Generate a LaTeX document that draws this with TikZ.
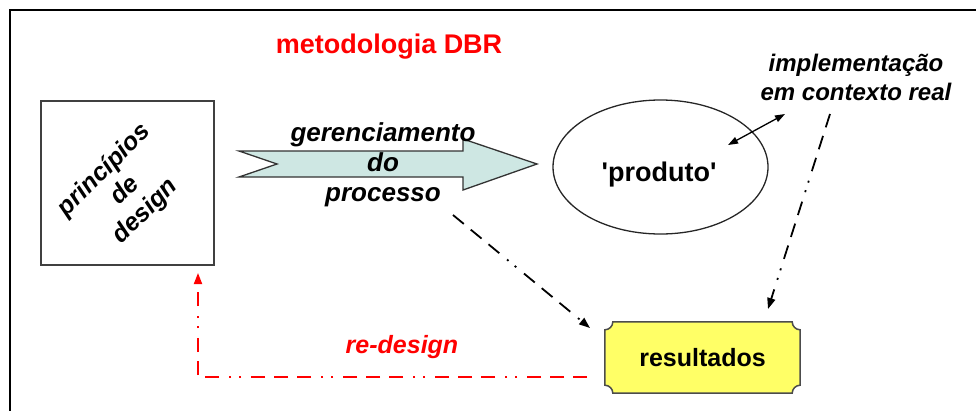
\documentclass[tikz,border=0pt]{standalone}
\usepackage{fontspec}
\setmainfont{Liberation Sans}
\usetikzlibrary{arrows.meta,shapes.geometric,backgrounds}
\definecolor{arrowfill}{RGB}{206,231,227}
\definecolor{resfill}{RGB}{255,255,102}
\begin{document}
\begin{tikzpicture}[x=1pt,y=-1pt,
  ddot/.style={line width=1.8pt, dash pattern=on 14pt off 9pt on 14pt off 9pt on 14pt off 10pt on 2pt off 8pt on 2pt off 10pt},
  tipa/.style={-{Triangle[length=11pt,width=8pt]}},
  bi/.style={font=\fontsize{26}{30}\selectfont\bfseries\itshape, align=center, inner sep=0pt},
  bo/.style={font=\fontsize{26}{30}\selectfont\bfseries, align=center, inner sep=0pt},
]
\useasboundingbox (0,0) rectangle (976,410);
% outer frame
\draw[line width=2pt] (10,414) -- (10,10) -- (980,10);

% title
\node[bo, red, font=\fontsize{27}{32}\selectfont\bfseries] (title) at (389,47) {metodologia DBR};

% principles box
\node[draw=black!75, line width=1.5pt, minimum width=173pt, minimum height=164pt, inner sep=0pt] (pd) at (127.5,183) {};
\node[bi, rotate=45, font=\fontsize{25}{29}\selectfont\bfseries\itshape] (pdt) at (125,191) {princípios\\de\\design};

% block arrow
\path[draw=black!80, line width=1.3pt, fill=arrowfill, line join=miter]
  (239,151) -- (463,151) -- (463,139) -- (537,164) -- (463,190) -- (463,177) -- (239,177) -- (277,164) -- cycle;
\node[bi] (gp) at (383,165) {gerenciamento\\do\\processo};

% product ellipse
\node[ellipse, draw=black!85, line width=1.3pt, minimum width=215pt, minimum height=134pt, inner sep=0pt] (prod) at (660.5,167) {};
\node[bo, font=\fontsize{27}{32}\selectfont\bfseries] (prodt) at (659,175) {\textquotesingle produto\textquotesingle};

% implementation text
\node[bi, font=\fontsize{24}{29}\selectfont\bfseries\itshape] (impl) at (856,77) {implementação\\em contexto real};
\coordinate (da1) at (728,145);
\coordinate (da2) at (785,114);
\draw[line width=1.3pt, {Triangle[length=10pt,width=7pt]}-{Triangle[length=10pt,width=7pt]}] (da1) -- (da2);

% results plaque
\node[bo, font=\fontsize{25}{30}\selectfont\bfseries, minimum width=195pt, minimum height=71pt] (res) at (702.5,357.5) {resultados};
\begin{scope}[on background layer]
\path[draw=black!70, line width=1.5pt, fill=resfill]
  ([xshift=8pt]res.north west) -- ([xshift=-8pt]res.north east)
  arc[start angle=180,end angle=270,radius=8pt] -- ([yshift=8pt]res.south east)
  arc[start angle=90,end angle=180,radius=8pt] -- ([xshift=8pt]res.south west)
  arc[start angle=0,end angle=90,radius=8pt] -- ([yshift=-8pt]res.north west)
  arc[start angle=-90,end angle=0,radius=8pt] -- cycle;
\end{scope}

% dash-dot connectors
\coordinate (c1) at (453,215);
\coordinate (t1) at (590,328);
\draw[ddot, tipa] (c1) -- (t1);
\coordinate (c2) at (830,114);
\coordinate (t2) at (768,309);
\draw[ddot, tipa] (c2) -- (t2);

% red redesign loop
\coordinate (r1) at (587,377);
\coordinate (r2) at (198,273);
\draw[ddot, red, tipa] (r1) -| (r2);
\node[bi, red, font=\fontsize{25}{30}\selectfont\bfseries\itshape] (rd) at (402,347) {re-design};
\end{tikzpicture}
\end{document}
